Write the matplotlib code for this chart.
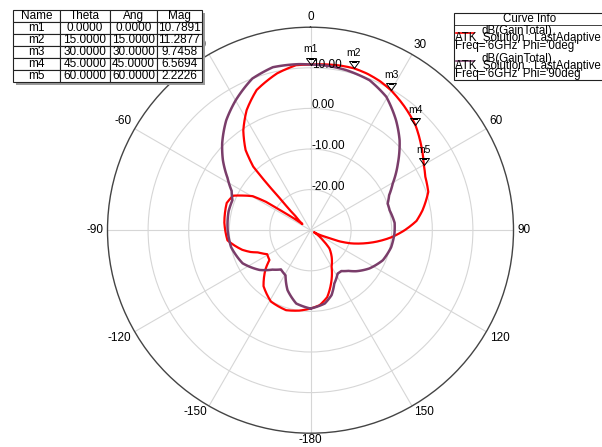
import numpy as np
import matplotlib.pyplot as plt
from matplotlib.path import Path
from matplotlib.patches import Rectangle
from matplotlib.lines import Line2D
import matplotlib.transforms as mtransforms

plt.rcParams['font.family'] = ['Liberation Sans', 'DejaVu Sans']

# marker readouts (on the Phi=0deg curve)
m_names = ['m1', 'm2', 'm3', 'm4', 'm5']
m_theta = [0, 15, 30, 45, 60]
m_mag = [10.7891, 11.2877, 9.7458, 6.5694, 2.2226]

# dB(GainTotal), Phi=0deg
phi0_theta = [-180, -172, -163, -151, -140, -131, -126, -119, -113, -110, -106, -97, -85, -72,
              -66, -63, -59.5, -57.5, -56.5, -53, -47, -44, -43, -42, -39, -34, -28, -21, -12,
              -5, 0, 5, 10, 15, 20, 25, 30, 37, 45, 52, 60, 65, 72, 80, 85, 90, 95, 100, 105,
              108, 111, 113, 120, 129, 134, 142, 150, 159, 166, 173, 180]
phi0_db = [-10.7, -10.0, -9.4, -9.9, -12.0, -15.3, -17.5, -17.8, -16.0, -14.3, -12.5, -9.4, -8.7, -8.3,
           -9.1, -11.2, -13.5, -17.0, -21.8, -27.5, -25.2, -19.9, -14.1, -8.9, -4.6, -0.4, 3.5, 7.0, 9.5,
           10.8, 10.7891, 11.0, 11.2, 11.2877, 11.0, 10.5, 9.7458, 8.3, 6.5694, 4.5, 2.2226, 1.2, 0.5,
           -2.0, -3.8, -6.8, -10.0, -13.6, -17.3, -19.5, -22.3, -25.5, -29.0, -26.1, -23.5, -21.5,
           -19.6, -15.9, -13.0, -11.4, -10.7]

# dB(GainTotal), Phi=90deg
phi90_theta = [-180, -169, -159, -151, -143, -136, -128, -116, -102, -90, -77, -69, -63.5, -57.7,
               -51.4, -45.5, -37.5, -30, -21, -13, -4, 0, 6, 12.6, 21.5, 29.6, 37.9, 44.7, 52.6,
               60.4, 66, 71, 76, 85, 92, 102, 112.5, 123, 132, 137, 143, 148, 156, 162, 169, 180]
phi90_db = [-10.7, -11.6, -14.2, -17.3, -17.9, -16.5, -14.1, -11.4, -10.0, -9.6, -9.3, -9.4, -8.3, -5.8,
            -2.4, 0.5, 4.1, 6.9, 10.0, 11.2, 11.0, 10.8, 10.7, 10.4, 9.7, 7.8, 4.3, 1.2, -2.9,
            -6.7, -8.8, -9.9, -9.9, -9.2, -9.3, -9.7, -10.7, -12.7, -14.9, -16.3, -17.4, -17.4,
            -15.6, -13.2, -11.6, -10.7]

ang_ticks = [0, 30, 60, 90, 120, 150, 180, 210, 240, 270, 300, 330]
ang_labels = ['0', '30', '60', '90', '120', '150', '-180', '-150', '-120', '-90', '-60', '-30']
r_ticks = [-20, -10, 0, 10]
r_max = 20

RED = '#ff0000'
PURPLE = '#7a3d6a'
W, H = 602, 447


def fx(x):
    return x / W


def fy(y):
    return 1 - y / H


fig = plt.figure(figsize=(W / 100, H / 100), dpi=100)
cx, cy, R = 310.5, 230.2, 203
ax = fig.add_axes([fx(cx - R), fy(cy + R), 2 * R / W, 2 * R / H], projection='polar')
ax.set_theta_zero_location('N')
ax.set_theta_direction(-1)
ax.set_rlim(-30, r_max)

ax.set_xticks(np.deg2rad(ang_ticks))
ax.set_xticklabels([])
ax.set_xticks(np.deg2rad(np.arange(0, 360, 5)), minor=True)
ax.tick_params(axis='x', which='major', direction='in', length=6, width=0.8, color='#333333')
ax.tick_params(axis='x', which='minor', direction='in', length=3.5, width=0.7, color='#333333')
ax.set_yticks(r_ticks)
ax.set_yticklabels([])
ax.tick_params(axis='y', length=0)
ax.grid(True, color='#d6d6d6', lw=0.8)
ax.spines['polar'].set_color('#444444')
ax.spines['polar'].set_linewidth(1.0)

# angle labels, anchored just outside the rim like HFSS does
for deg, lab in zip(ang_ticks, ang_labels):
    s, c = np.sin(np.deg2rad(deg)), np.cos(np.deg2rad(deg))
    ha = 'left' if s > 0.01 else ('right' if s < -0.01 else 'center')
    va = 'bottom' if c > 0.01 else ('top' if c < -0.01 else 'center')
    dy = 4 * c if c >= 0 else 0.5 * c
    ax.annotate(lab, (np.deg2rad(deg), r_max), xytext=(4 * s, dy), textcoords='offset pixels',
                ha=ha, va=va, fontsize=8.5, annotation_clip=False)

lab_tr = mtransforms.offset_copy(ax.transData, fig=fig, x=1.5, y=3, units='dots')
for r in r_ticks:
    ax.text(0, r, f'{r:.2f}', transform=lab_tr, ha='left', va='center', fontsize=8.5)

ln0, = ax.plot(np.deg2rad(phi0_theta), phi0_db, color=RED, lw=1.6)
ln90, = ax.plot(np.deg2rad(phi90_theta), phi90_db, color=PURPLE, lw=1.8)
# let the polar transform follow the angle between read points
for ln in (ln0, ln90):
    ln.get_path()._interpolation_steps = 16

tri = Path([(-0.72, 1.0), (0.72, 1.0), (0, 0), (-0.72, 1.0)],
           [Path.MOVETO, Path.LINETO, Path.LINETO, Path.CLOSEPOLY])
ax.plot(np.deg2rad(m_theta), m_mag, ls='none', marker=tri, ms=10, mfc='none',
        mec='black', mew=0.7, zorder=5)
for name, th, mg in zip(m_names, m_theta, m_mag):
    ax.annotate(name, (np.deg2rad(th), mg), xytext=(0, 11), textcoords='offset points',
                ha='center', va='center', fontsize=7.5, zorder=6)

# marker table
tx0, ty0, tx1, ty1 = 12.7, 10, 201.7, 81.7
fig.patches.append(Rectangle((fx(tx0 + 3), fy(ty1 + 3)), (tx1 - tx0) / W, (ty1 - ty0) / H,
                             transform=fig.transFigure, facecolor='#9a9a9a', edgecolor='none', zorder=0.5))
tax = fig.add_axes([fx(tx0), fy(ty1), (tx1 - tx0) / W, (ty1 - ty0) / H])
tax.set_zorder(2)
tax.axis('off')
rows = [[n, f'{t:.4f}', f'{t:.4f}', f'{m:.4f}'] for n, t, m in zip(m_names, m_theta, m_mag)]
widths = np.array([47.3, 50.0, 47.0, 44.7])
tbl = tax.table(cellText=rows, colLabels=['Name', 'Theta', 'Ang', 'Mag'], cellLoc='center',
                bbox=[0, 0, 1, 1], colWidths=list(widths / widths.sum()))
tbl.auto_set_font_size(False)
tbl.set_fontsize(8.5)
for cell in tbl.get_celld().values():
    cell.set_edgecolor('#222222')
    cell.set_linewidth(0.8)
    cell.set_facecolor('white')
    cell.PAD = 0.02

# curve info box
bx0, by0, by1 = 454, 13, 80
fig.patches.append(Rectangle((fx(bx0), fy(by1)), (W + 10 - bx0) / W, (by1 - by0) / H,
                             transform=fig.transFigure, facecolor='white', edgecolor='#222222',
                             lw=0.8, zorder=3))
fig.lines.append(Line2D([fx(bx0), 1.0], [fy(25), fy(25)], transform=fig.transFigure,
                        color='#222222', lw=0.6, zorder=4))
fig.text(fx(530), fy(19), 'Curve Info', ha='center', va='center', fontsize=8.3, zorder=5)
entries = [(RED, "Freq='6GHz' Phi='0deg'", 32), (PURPLE, "Freq='6GHz' Phi='90deg'", 60)]
for col, freq, yy in entries:
    fig.lines.append(Line2D([fx(456), fx(474)], [fy(yy + 1), fy(yy + 1)], transform=fig.transFigure,
                            color=col, lw=1.2, zorder=5))
    fig.text(fx(481), fy(yy - 1), 'dB(GainTotal)', ha='left', va='center', fontsize=8.3, zorder=5)
    fig.text(fx(455), fy(yy + 6.5), 'ATK_Solution : LastAdaptive', ha='left', va='center',
             fontsize=8.3, zorder=5)
    fig.text(fx(455), fy(yy + 13.5), freq, ha='left', va='center', fontsize=8.3, zorder=5)

fig.savefig('out.png', dpi=100)
